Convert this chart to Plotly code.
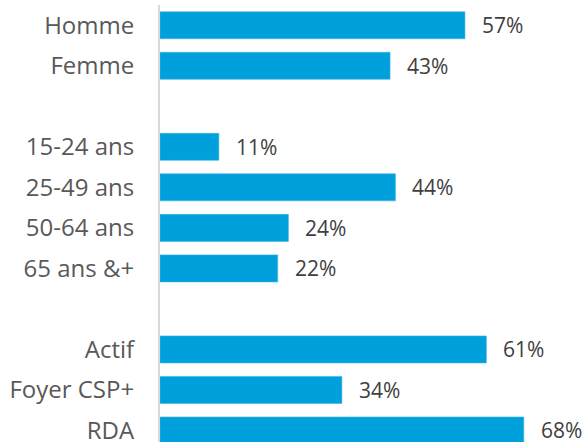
import plotly.graph_objects as go

categories = ["Homme", "Femme", "", "15-24 ans", "25-49 ans", "50-64 ans", "65 ans &+", "", "Actif", "Foyer CSP+", "RDA"]
values = [57, 43, None, 11, 44, 24, 22, None, 61, 34, 68]
value_labels = ["57%", "43%", "", "11%", "44%", "24%", "22%", "", "61%", "34%", "68%"]

pos = list(range(len(categories)))
bx = [v for v in values if v is not None]
by = [p for p, v in zip(pos, values) if v is not None]

fig = go.Figure()
fig.add_trace(go.Bar(
    x=bx, y=by, orientation="h", width=0.667,
    marker=dict(color="#00A0DC", line=dict(color="#3DB5E6", width=0.6)),
    hoverinfo="skip",
))

for p, v, t in zip(pos, values, value_labels):
    if v is None:
        continue
    fig.add_annotation(x=v, y=p, text=t, showarrow=False, xanchor="left",
                       xshift=15, font=dict(size=21, color="#404040", family="Open Sans"))

fig.update_layout(
    width=585, height=442,
    margin=dict(l=160, r=0, t=5, b=0, autoexpand=False),
    plot_bgcolor="white", paper_bgcolor="white",
    showlegend=False,
    xaxis=dict(range=[0, 425 / 5.35], visible=False, fixedrange=True, automargin=False),
    yaxis=dict(
        range=[10.284, -0.5],
        tickvals=[p for p, c in zip(pos, categories) if c],
        ticktext=[c for c in categories if c],
        showgrid=False, zeroline=False, automargin=False, fixedrange=True,
        showline=True, linecolor="#D9D9D9", linewidth=2,
        ticks="", ticklabelstandoff=19, ticklabeloverflow="allow",
        tickfont=dict(size=24, color="#595959", family="Open Sans"),
    ),
)

fig.write_html("out.html", config={"displayModeBar": False, "staticPlot": True},
               post_script="document.body.style.margin='0';document.body.style.overflow='hidden';")
